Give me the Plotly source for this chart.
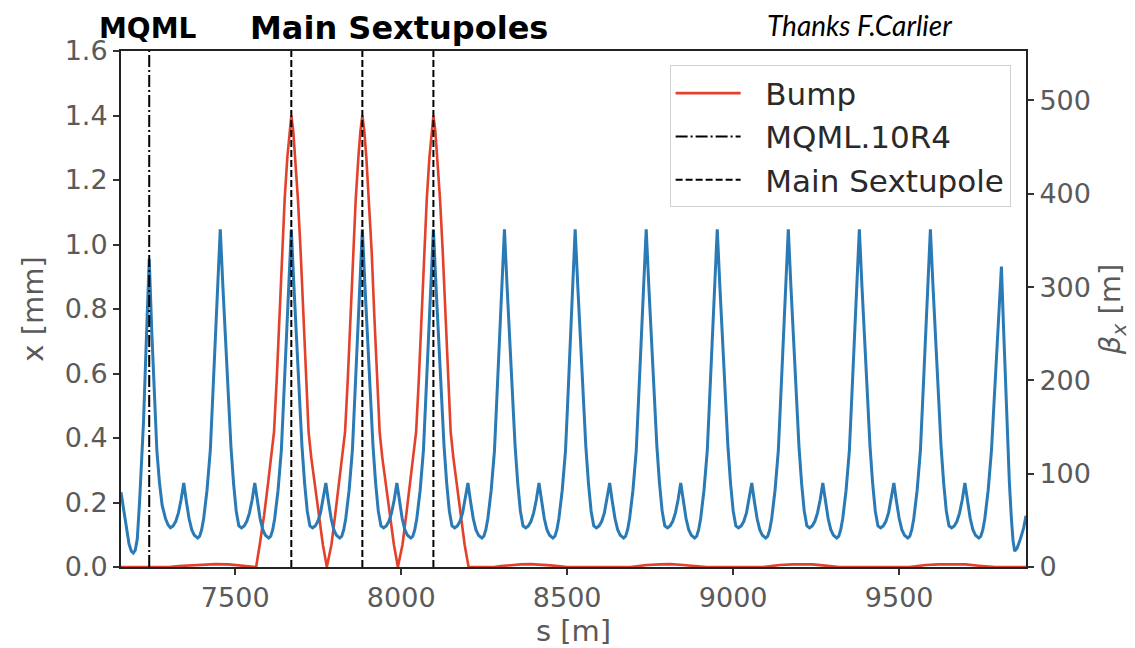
import plotly.graph_objects as go

# ---------------- data ----------------
# s positions of elements [m]
MQML_S = [7241]
SEXT_S = [7669, 7883, 8097]

# beta_x [m] along s, written period by period (main peaks every ~214 m)
BETA_S_ROWS = [
    [7156, 7164, 7172, 7180, 7187, 7193, 7199, 7205, 7212, 7218, 7224, 7230, 7236],
    [7241, 7249, 7257, 7264, 7272, 7280, 7290, 7298, 7305, 7313, 7321, 7329, 7337, 7345, 7353, 7361, 7369, 7377, 7387, 7393, 7399, 7405, 7415, 7425, 7431, 7439, 7447],
    [7455, 7463, 7471, 7479, 7487, 7495, 7503, 7511, 7519, 7527, 7535, 7543, 7551, 7559, 7567, 7575, 7583, 7591, 7601, 7607, 7613, 7619, 7629, 7639, 7645, 7653, 7661],
    [7669, 7677, 7685, 7693, 7701, 7709, 7717, 7725, 7733, 7741, 7749, 7757, 7765, 7773, 7781, 7789, 7797, 7805, 7815, 7821, 7827, 7833, 7843, 7853, 7859, 7867, 7875],
    [7883, 7891, 7899, 7907, 7915, 7923, 7931, 7939, 7947, 7955, 7963, 7971, 7979, 7987, 7995, 8003, 8011, 8019, 8029, 8035, 8041, 8047, 8057, 8067, 8073, 8081, 8089],
    [8097, 8105, 8113, 8121, 8129, 8137, 8145, 8153, 8161, 8169, 8177, 8185, 8193, 8201, 8209, 8217, 8225, 8233, 8243, 8249, 8255, 8261, 8271, 8281, 8287, 8295, 8303],
    [8311, 8319, 8327, 8335, 8343, 8351, 8359, 8367, 8375, 8383, 8391, 8399, 8407, 8415, 8423, 8431, 8439, 8447, 8457, 8463, 8469, 8475, 8485, 8495, 8501, 8509, 8517],
    [8524, 8532, 8540, 8548, 8556, 8564, 8572, 8580, 8588, 8596, 8604, 8612, 8620, 8628, 8636, 8644, 8652, 8660, 8670, 8676, 8682, 8688, 8698, 8708, 8714, 8722, 8730],
    [8738, 8746, 8754, 8762, 8770, 8778, 8786, 8794, 8802, 8810, 8818, 8826, 8834, 8842, 8850, 8858, 8866, 8874, 8884, 8890, 8896, 8902, 8912, 8922, 8928, 8936, 8944],
    [8952, 8960, 8968, 8976, 8984, 8992, 9000, 9008, 9016, 9024, 9032, 9040, 9048, 9056, 9064, 9072, 9080, 9088, 9098, 9104, 9110, 9116, 9126, 9136, 9142, 9150, 9158],
    [9166, 9174, 9182, 9190, 9198, 9206, 9214, 9222, 9230, 9238, 9246, 9254, 9262, 9270, 9278, 9286, 9294, 9302, 9312, 9318, 9324, 9330, 9340, 9350, 9356, 9364, 9372],
    [9380, 9388, 9396, 9404, 9412, 9420, 9428, 9436, 9444, 9452, 9460, 9468, 9476, 9484, 9492, 9500, 9508, 9516, 9526, 9532, 9538, 9544, 9554, 9564, 9570, 9578, 9586],
    [9594, 9602, 9610, 9618, 9626, 9634, 9642, 9650, 9658, 9666, 9674, 9682, 9690, 9698, 9706, 9714, 9722, 9730, 9740, 9746, 9752, 9758, 9768, 9778, 9784, 9792, 9800],
    [9808, 9814, 9820, 9826, 9832, 9838, 9843, 9848, 9855, 9865, 9875, 9882],
]
BETA_ROWS = [
    [80, 60, 40, 25, 17, 15, 18, 30, 70, 110, 157, 220, 280],
    [330, 250, 180, 125, 90, 66, 52, 45, 42, 44, 49, 58, 72, 90, 70, 52, 40, 34, 31, 33, 40, 52, 82, 125, 172, 236, 299],
    [362, 300, 240, 180, 130, 90, 60, 44, 42, 44, 49, 58, 72, 90, 70, 52, 40, 34, 31, 33, 40, 52, 82, 125, 172, 236, 299],
    [362, 300, 240, 180, 130, 90, 60, 44, 42, 44, 49, 58, 72, 90, 70, 52, 40, 34, 31, 33, 40, 52, 82, 125, 172, 236, 299],
    [362, 300, 240, 180, 130, 90, 60, 44, 42, 44, 49, 58, 72, 90, 70, 52, 40, 34, 31, 33, 40, 52, 82, 125, 172, 236, 299],
    [362, 300, 240, 180, 130, 90, 60, 44, 42, 44, 49, 58, 72, 90, 70, 52, 40, 34, 31, 33, 40, 52, 82, 125, 172, 236, 299],
    [362, 300, 240, 180, 130, 90, 60, 44, 42, 44, 49, 58, 72, 90, 70, 52, 40, 34, 31, 33, 40, 52, 82, 125, 172, 236, 299],
    [362, 300, 240, 180, 130, 90, 60, 44, 42, 44, 49, 58, 72, 90, 70, 52, 40, 34, 31, 33, 40, 52, 82, 125, 172, 236, 299],
    [362, 300, 240, 180, 130, 90, 60, 44, 42, 44, 49, 58, 72, 90, 70, 52, 40, 34, 31, 33, 40, 52, 82, 125, 172, 236, 299],
    [362, 300, 240, 180, 130, 90, 60, 44, 42, 44, 49, 58, 72, 90, 70, 52, 40, 34, 31, 33, 40, 52, 82, 125, 172, 236, 299],
    [362, 300, 240, 180, 130, 90, 60, 44, 42, 44, 49, 58, 72, 90, 70, 52, 40, 34, 31, 33, 40, 52, 82, 125, 172, 236, 299],
    [362, 300, 240, 180, 130, 90, 60, 44, 42, 44, 49, 58, 72, 90, 70, 52, 40, 34, 31, 33, 40, 52, 82, 125, 172, 236, 299],
    [362, 300, 240, 180, 130, 90, 60, 44, 42, 44, 49, 58, 72, 90, 70, 52, 40, 34, 31, 33, 40, 52, 82, 125, 165, 220, 275],
    [322, 260, 200, 140, 90, 52, 28, 17, 20, 30, 42, 55],
]

# Bump orbit x [mm] along s
BUMP_S = [
    7156, 7300, 7330, 7370, 7410, 7440, 7480, 7520, 7550,
    7563, 7574, 7587, 7599, 7609, 7617, 7625, 7633, 7641, 7649, 7657, 7663, 7669,
    7675, 7681, 7689, 7697, 7705, 7713, 7721, 7729, 7739, 7751, 7764, 7776,
    7790, 7801, 7813, 7823, 7831, 7839, 7847, 7855, 7863, 7871, 7877, 7883,
    7889, 7895, 7903, 7911, 7919, 7927, 7935, 7943, 7953, 7965, 7978, 7990,
    8004, 8015, 8027, 8037, 8045, 8053, 8061, 8069, 8077, 8085, 8091, 8097,
    8103, 8109, 8117, 8125, 8133, 8141, 8149, 8157, 8167, 8179, 8191, 8203,
    8280, 8300, 8330, 8360, 8390, 8420, 8450, 8480, 8500,
    8690, 8710, 8740, 8780, 8810, 8840, 8870, 8900, 8920,
    9090, 9110, 9140, 9180, 9210, 9240, 9270, 9300, 9320,
    9530, 9550, 9580, 9620, 9660, 9700, 9740, 9770, 9790, 9882,
]
BUMP_X = [
    0.0, 0.0, 0.003, 0.006, 0.008, 0.009, 0.008, 0.005, 0.002,
    0.0, 0.07, 0.16, 0.26, 0.34, 0.42, 0.58, 0.78, 0.98, 1.14, 1.27, 1.35, 1.40,
    1.35, 1.27, 1.14, 0.98, 0.78, 0.58, 0.42, 0.34, 0.26, 0.16, 0.07, 0.0,
    0.07, 0.16, 0.26, 0.34, 0.42, 0.58, 0.78, 0.98, 1.14, 1.27, 1.35, 1.40,
    1.35, 1.27, 1.14, 0.98, 0.78, 0.58, 0.42, 0.34, 0.26, 0.16, 0.07, 0.0,
    0.07, 0.16, 0.26, 0.34, 0.42, 0.58, 0.78, 0.98, 1.14, 1.27, 1.35, 1.40,
    1.35, 1.27, 1.14, 0.98, 0.78, 0.58, 0.42, 0.34, 0.26, 0.16, 0.07, 0.0,
    0.0, 0.003, 0.006, 0.008, 0.009, 0.008, 0.005, 0.002, 0.0,
    0.0, 0.003, 0.006, 0.008, 0.009, 0.007, 0.004, 0.002, 0.0,
    0.0, 0.003, 0.006, 0.008, 0.009, 0.008, 0.005, 0.002, 0.0,
    0.0, 0.003, 0.006, 0.008, 0.009, 0.008, 0.004, 0.002, 0.0, 0.0,
]

X_RANGE = [7156, 9882]
Y_RANGE = [0, 1.6]
Y2_RANGE = [0, 553]
X_TICKS = [7500, 8000, 8500, 9000, 9500]
Y_TICKS = [0.0, 0.2, 0.4, 0.6, 0.8, 1.0, 1.2, 1.4, 1.6]
Y2_TICKS = [0, 100, 200, 300, 400, 500]

# ---------------- figure ----------------
beta_s = [v for row in BETA_S_ROWS for v in row]
beta_v = [v for row in BETA_ROWS for v in row]

# element markers span the full plot height (drawn on the right axis so they sit on top)
sext_x, sext_y = [], []
for s in SEXT_S:
    sext_x += [s, s, None]
    sext_y += [Y2_RANGE[0], Y2_RANGE[1], None]

RED = "#e2412b"
BLUE = "#2a7ab5"
GRAY = "#5a5a5a"
SP = "\u00a0\u00a0"

fig = go.Figure()
fig.add_trace(go.Scatter(x=BUMP_S, y=BUMP_X, mode="lines", name=SP + "Bump",
                         line=dict(color=RED, width=2.6), legendgroup="a"))
fig.add_trace(go.Scatter(x=beta_s, y=beta_v, mode="lines", yaxis="y2",
                         showlegend=False, line=dict(color=BLUE, width=3)))
fig.add_trace(go.Scatter(x=[MQML_S[0], MQML_S[0]], y=Y2_RANGE, mode="lines", yaxis="y2",
                         name=SP + "MQML.10R4", legendgroup="b",
                         line=dict(color="black", width=2, dash="12px,3px,2px,3px")))
fig.add_trace(go.Scatter(x=sext_x, y=sext_y, mode="lines", name=SP + "Main Sextupole",
                         legendgroup="c", yaxis="y2",
                         line=dict(color="black", width=2, dash="7px,3px")))

axis_common = dict(showline=True, linecolor="#222222", linewidth=2,
                   ticks="outside", ticklen=6, tickwidth=1.5, tickcolor="#333333",
                   showgrid=False, zeroline=False, automargin=False,
                   tickfont=dict(size=27, color=GRAY, family="DejaVu Sans"))

fig.update_layout(
    width=1135, height=648,
    margin=dict(l=121, r=109, t=51, b=81),
    paper_bgcolor="white", plot_bgcolor="white",
    font=dict(family="DejaVu Sans", color=GRAY),
    xaxis=dict(range=X_RANGE, tickvals=X_TICKS, mirror=True,
               title=dict(text="s [m]", font=dict(size=29, color=GRAY), standoff=12),
               **axis_common),
    yaxis=dict(range=Y_RANGE, tickvals=Y_TICKS, tickformat=".1f", mirror=True,
               title=dict(text="x [mm]", font=dict(size=29, color=GRAY), standoff=12),
               **axis_common),
    yaxis2=dict(range=Y2_RANGE, tickvals=Y2_TICKS, overlaying="y", side="right",
                title=dict(text="<i>β<sub>x</sub></i> [m]", font=dict(size=29, color=GRAY), standoff=10),
                **axis_common),
    legend=dict(x=0.983, y=0.972, xanchor="right", yanchor="top",
                bgcolor="white", bordercolor="#d0d0d0", borderwidth=1,
                font=dict(size=31, color="#2a2a2a"), itemwidth=65,
                tracegroupgap=3, traceorder="normal"),
    showlegend=True,
)

fig.add_annotation(text="<b>MQML</b>", x=0.0298, y=1.044, xref="paper", yref="paper",
                   xanchor="center", yanchor="middle",
                   showarrow=False, font=dict(size=28, color="black", family="DejaVu Sans"))
fig.add_annotation(text="<b>Main Sextupoles</b>", x=0.307, y=1.044, xref="paper", yref="paper",
                   xanchor="center", yanchor="middle",
                   showarrow=False, font=dict(size=32, color="black", family="DejaVu Sans"))
fig.add_annotation(text="<i>Thanks F.Carlier</i>", x=0.8155, y=1.05, xref="paper", yref="paper",
                   xanchor="center", yanchor="middle",
                   showarrow=False, font=dict(size=28, color="black", family="Lato"))

fig.write_html("out.html")
